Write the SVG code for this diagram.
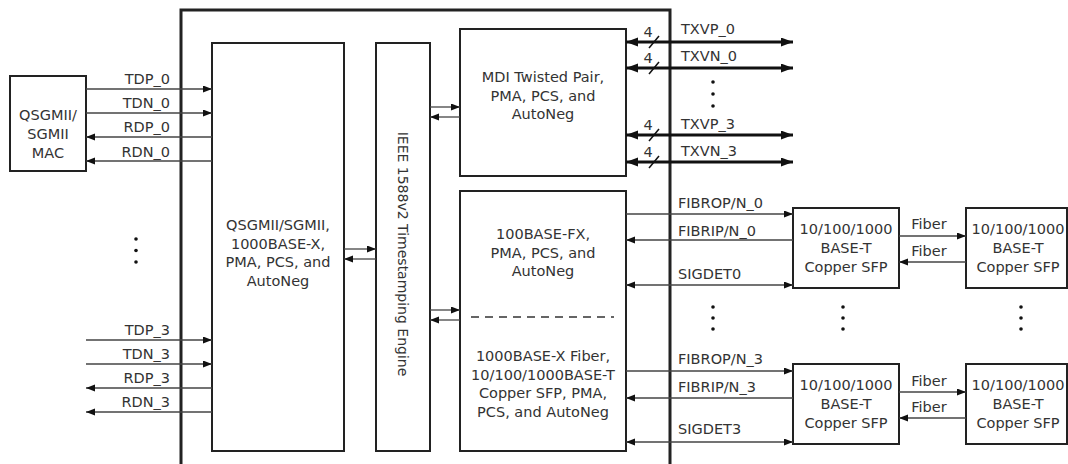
<svg xmlns="http://www.w3.org/2000/svg" width="1068" height="464" viewBox="0 0 1068 464">
<defs>
<style>
text{font-family:"DejaVu Sans","Liberation Sans",sans-serif;font-size:14.5px;fill:#333}
.c{text-anchor:middle}
.e{text-anchor:end}
.box{fill:#fff;stroke:#222;stroke-width:2}
.outer{fill:none;stroke:#222;stroke-width:3}
.ln{stroke:#444;stroke-width:1.3;fill:none}
.thick{stroke:#111;stroke-width:3;fill:none}
.sl{stroke:#111;stroke-width:1.5}
.a1{marker-end:url(#ah)}
.a2{marker-start:url(#ah);marker-end:url(#ah)}
.t2{marker-start:url(#th);marker-end:url(#th)}
.dot{fill:#111}
</style>
<marker id="ah" markerUnits="userSpaceOnUse" markerWidth="10" markerHeight="8" refX="9" refY="3.5" orient="auto-start-reverse"><path d="M0,0 L9,3.5 L0,7 z" fill="#111"/></marker>
<marker id="th" markerUnits="userSpaceOnUse" markerWidth="13" markerHeight="10" refX="12" refY="4.5" orient="auto-start-reverse"><path d="M0,0 L12,4.5 L0,9 z" fill="#111"/></marker>
</defs>
<rect width="1068" height="464" fill="#fff"/>

<g id="chip"><path class="outer" d="M181,468 V10 H670 V468"/></g>

<g id="mac"><rect class="box" x="10" y="76" width="76" height="95"/>
<text class="c" x="48" y="120">QSGMII/</text><text class="c" x="48" y="139">SGMII</text><text class="c" x="48" y="158">MAC</text></g>

<g id="qsgmii"><rect class="box" x="212" y="43" width="132" height="408"/>
<text class="c" x="278" y="230">QSGMII/SGMII,</text><text class="c" x="278" y="248.5">1000BASE-X,</text><text class="c" x="278" y="267">PMA, PCS, and</text><text class="c" x="278" y="285.5">AutoNeg</text></g>

<g id="ieee"><rect class="box" x="376" y="43" width="54" height="408"/>
<text class="c" transform="translate(398,254) rotate(90)" style="font-size:14px">IEEE 1588v2 Timestamping Engine</text></g>

<g id="mdi"><rect class="box" x="460" y="29" width="166" height="147"/>
<text class="c" x="543" y="81.5">MDI Twisted Pair,</text><text class="c" x="543" y="100.5">PMA, PCS, and</text><text class="c" x="543" y="119">AutoNeg</text></g>

<g id="fx"><rect class="box" x="460" y="191" width="166" height="260"/>
<text class="c" x="543" y="239">100BASE-FX,</text><text class="c" x="543" y="258">PMA, PCS, and</text><text class="c" x="543" y="276">AutoNeg</text>
<line x1="471" y1="317" x2="614" y2="317" stroke="#333" stroke-width="1.3" stroke-dasharray="8,6"/>
<text class="c" x="543" y="360.5">1000BASE-X Fiber,</text><text class="c" x="543" y="380">10/100/1000BASE-T</text><text class="c" x="543" y="398">Copper SFP, PMA,</text><text class="c" x="543" y="416.5">PCS, and AutoNeg</text></g>

<g id="sfp1"><rect class="box" x="793" y="208" width="106" height="80"/>
<text class="c" x="846" y="234">10/100/1000</text><text class="c" x="846" y="253">BASE-T</text><text class="c" x="846" y="272">Copper SFP</text></g>
<g id="sfp2"><rect class="box" x="966" y="208" width="101" height="80"/>
<text class="c" x="1018" y="234">10/100/1000</text><text class="c" x="1018" y="253">BASE-T</text><text class="c" x="1018" y="272">Copper SFP</text></g>
<g id="sfp3"><rect class="box" x="793" y="364" width="106" height="80"/>
<text class="c" x="846" y="390">10/100/1000</text><text class="c" x="846" y="409">BASE-T</text><text class="c" x="846" y="428">Copper SFP</text></g>
<g id="sfp4"><rect class="box" x="966" y="364" width="101" height="80"/>
<text class="c" x="1018" y="390">10/100/1000</text><text class="c" x="1018" y="409">BASE-T</text><text class="c" x="1018" y="428">Copper SFP</text></g>

<g id="connectors">
<line class="ln a1" x1="86" y1="89" x2="212" y2="89"/>
<line class="ln a1" x1="86" y1="113" x2="212" y2="113"/>
<line class="ln a1" x1="212" y1="137" x2="86" y2="137"/>
<line class="ln a1" x1="212" y1="161" x2="86" y2="161"/>
<line class="ln a1" x1="86" y1="340" x2="212" y2="340"/>
<line class="ln a1" x1="86" y1="364" x2="212" y2="364"/>
<line class="ln a1" x1="212" y1="388" x2="86" y2="388"/>
<line class="ln a1" x1="212" y1="412" x2="86" y2="412"/>
<text class="e" x="170" y="84">TDP_0</text><text class="e" x="170" y="108">TDN_0</text><text class="e" x="170" y="132">RDP_0</text><text class="e" x="170" y="156.5">RDN_0</text>
<text class="e" x="170" y="334.5">TDP_3</text><text class="e" x="170" y="359">TDN_3</text><text class="e" x="170" y="382.5">RDP_3</text><text class="e" x="170" y="407">RDN_3</text>
<circle class="dot" cx="136" cy="239" r="1.8"/><circle class="dot" cx="136" cy="250.5" r="1.8"/><circle class="dot" cx="136" cy="262" r="1.8"/>
<line class="ln a1" x1="344" y1="249" x2="376" y2="249"/>
<line class="ln a1" x1="376" y1="259" x2="344" y2="259"/>
<line class="ln a1" x1="430" y1="107" x2="460" y2="107"/>
<line class="ln a1" x1="460" y1="117" x2="430" y2="117"/>
<line class="ln a1" x1="430" y1="310" x2="460" y2="310"/>
<line class="ln a1" x1="460" y1="320" x2="430" y2="320"/>
<line class="thick t2" x1="626" y1="42" x2="793" y2="42"/>
<line class="thick t2" x1="626" y1="68" x2="793" y2="68"/>
<line class="thick t2" x1="626" y1="135" x2="793" y2="135"/>
<line class="thick t2" x1="626" y1="162" x2="793" y2="162"/>
<line class="sl" x1="649" y1="48" x2="659" y2="36"/>
<line class="sl" x1="649" y1="74" x2="659" y2="62"/>
<line class="sl" x1="649" y1="141" x2="659" y2="129"/>
<line class="sl" x1="649" y1="168" x2="659" y2="156"/>
<text class="c" x="648" y="37">4</text><text class="c" x="648" y="63">4</text><text class="c" x="648" y="130">4</text><text class="c" x="648" y="157">4</text>
<text x="681" y="34">TXVP_0</text><text x="681" y="61">TXVN_0</text><text x="681" y="129">TXVP_3</text><text x="681" y="156">TXVN_3</text>
<circle class="dot" cx="713" cy="82" r="1.8"/><circle class="dot" cx="713" cy="94" r="1.8"/><circle class="dot" cx="713" cy="106" r="1.8"/>
<line class="ln a1" x1="626" y1="214" x2="793" y2="214"/>
<line class="ln a1" x1="793" y1="240" x2="626" y2="240"/>
<line class="ln a2" x1="626" y1="285" x2="793" y2="285"/>
<text x="678" y="207.5">FIBROP/N_0</text><text x="678" y="235.5">FIBRIP/N_0</text><text x="678" y="279">SIGDET0</text>
<line class="ln a1" x1="899" y1="236" x2="966" y2="236"/>
<line class="ln a1" x1="966" y1="262" x2="899" y2="262"/>
<text class="c" x="929" y="229">Fiber</text><text class="c" x="929" y="256">Fiber</text>
<line class="ln a1" x1="626" y1="371" x2="793" y2="371"/>
<line class="ln a1" x1="793" y1="398" x2="626" y2="398"/>
<line class="ln a2" x1="626" y1="442" x2="793" y2="442"/>
<text x="678" y="364">FIBROP/N_3</text><text x="678" y="392">FIBRIP/N_3</text><text x="678" y="434">SIGDET3</text>
<line class="ln a1" x1="899" y1="392" x2="966" y2="392"/>
<line class="ln a1" x1="966" y1="418" x2="899" y2="418"/>
<text class="c" x="929" y="386">Fiber</text><text class="c" x="929" y="412">Fiber</text>
<circle class="dot" cx="713" cy="307" r="1.8"/><circle class="dot" cx="713" cy="318" r="1.8"/><circle class="dot" cx="713" cy="329" r="1.8"/>
<circle class="dot" cx="843" cy="307" r="1.8"/><circle class="dot" cx="843" cy="318" r="1.8"/><circle class="dot" cx="843" cy="329" r="1.8"/>
<circle class="dot" cx="1021" cy="307" r="1.8"/><circle class="dot" cx="1021" cy="318" r="1.8"/><circle class="dot" cx="1021" cy="329" r="1.8"/>
</g>
</svg>
